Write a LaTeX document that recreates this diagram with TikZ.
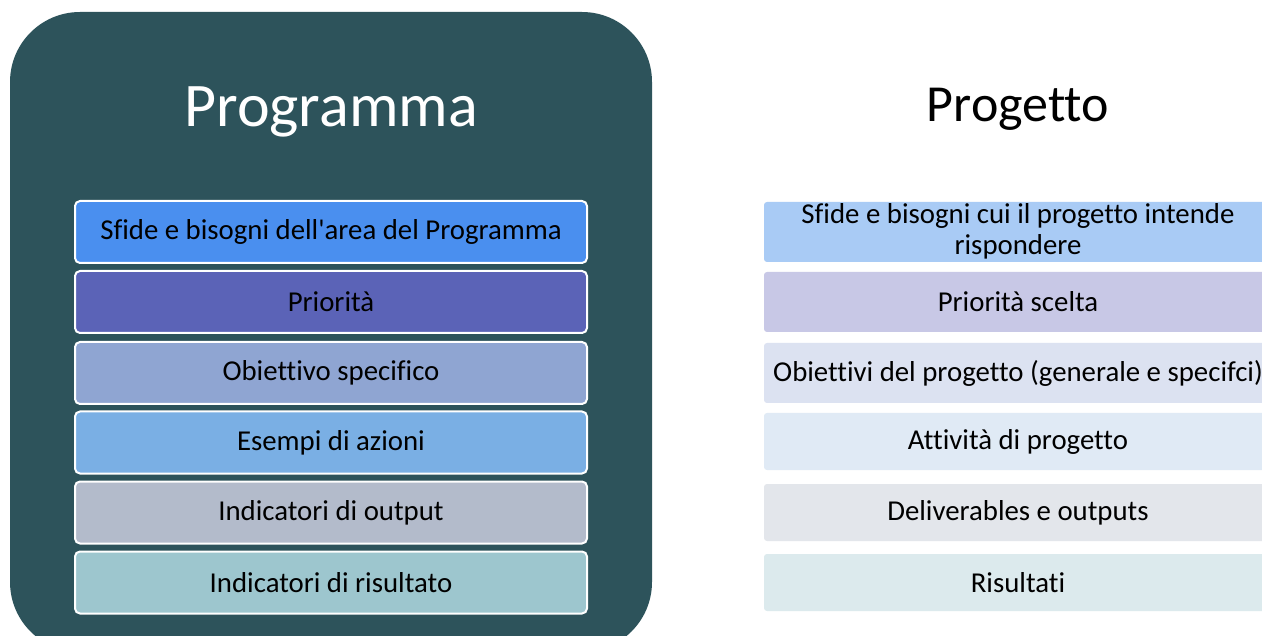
\documentclass[tikz,border=0pt]{standalone}
\usepackage{fontspec}
\setmainfont{Carlito}[Ligatures={NoCommon}]
\definecolor{dark}{HTML}{2D535B}
\definecolor{la}{HTML}{4A8FEF}
\definecolor{lb}{HTML}{5B63B7}
\definecolor{lc}{HTML}{8FA5D2}
\definecolor{ld}{HTML}{7AAFE4}
\definecolor{le}{HTML}{B3BBCB}
\definecolor{lf}{HTML}{9DC6CE}
\definecolor{ra}{HTML}{A9CBF5}
\definecolor{rb}{HTML}{C8C8E6}
\definecolor{rc}{HTML}{DCE2F1}
\definecolor{rd}{HTML}{E0EAF5}
\definecolor{re}{HTML}{E3E6EB}
\definecolor{rf}{HTML}{DCEAED}
\tikzset{
  lbox/.style={draw=white, line width=2pt, rounded corners=5pt, minimum width=512pt, minimum height=62pt, inner sep=0pt, font=\fontsize{28.8}{30}\selectfont, text=black},
  rbox/.style={rounded corners=3pt, minimum width=508pt, minimum height=58pt, inner sep=0pt, font=\fontsize{28.8}{30}\selectfont, text=black, align=center},
  title/.style={anchor=base, inner sep=0pt}
}
\begin{document}
\begin{tikzpicture}[x=1pt,y=-1pt]
\clip (0,0) rectangle (1262,636);
\fill[white] (0,0) rectangle (1262,636);
\fill[dark, rounded corners=70pt] (10,12) rectangle (652,652);
\node[title, text=white, font=\fontsize{62}{70}\selectfont] (tl) at (331,127) {Programma};
\node[title, text=black, font=\fontsize{52}{60}\selectfont] (tr) at (1018,122) {Progetto};
\node[lbox, fill=la] (l1) at (331,232) {Sfide e bisogni dell\textquotesingle area del Programma};
\node[lbox, fill=lb] (l2) at (331,302) {Priorità};
\node[lbox, fill=lc] (l3) at (331,373) {Obiettivo specifico};
\node[lbox, fill=ld] (l4) at (331,442.5) {Esempi di azioni};
\node[lbox, fill=le] (l5) at (331,512.5) {Indicatori di output};
\node[lbox, fill=lf] (l6) at (331,582.5) {Indicatori di risultato};
\node[rbox, fill=ra, minimum height=60pt] (r1) at (1018,232) {};
\node[rbox] (r1t) at (1018,231.5) {Sfide e bisogni cui il progetto intende\\[1pt]rispondere};
\node[rbox, fill=rb, minimum height=60pt] (r2) at (1018,302) {Priorità scelta};
\node[rbox, fill=rc, minimum height=60pt] (r3) at (1018,373) {Obiettivi del progetto (generale e specifci)};
\node[rbox, fill=rd, minimum height=57pt] (r4) at (1018,441.5) {Attività di progetto};
\node[rbox, fill=re, minimum height=57pt] (r5) at (1018,512.5) {Deliverables e outputs};
\node[rbox, fill=rf, minimum height=57pt] (r6) at (1018,582.5) {Risultati};
\end{tikzpicture}
\end{document}
